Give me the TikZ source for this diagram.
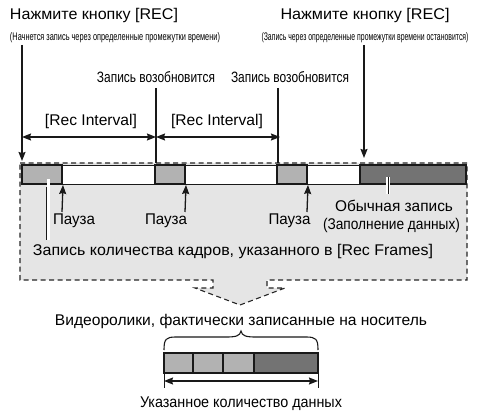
\documentclass[tikz,border=0pt]{standalone}
\usepackage{fontspec}
\usepackage{graphicx}
\setmainfont{Liberation Sans}
\usetikzlibrary{arrows.meta}
\newcommand{\condtext}[2]{\resizebox{#1}{\height}{#2}}
\begin{document}
\begin{tikzpicture}[x=1pt,y=-1pt,
  txt/.style={inner sep=0pt, anchor=base, font=\fontsize{15.5}{17}\selectfont},
  smalltxt/.style={inner sep=0pt, anchor=base, font=\fontsize{11}{12}\selectfont},
  ln/.style={line width=1.3pt, draw=black!90},
  arr/.style={ln, -{Stealth[length=9pt,width=7pt,inset=1pt]}},
  darr/.style={ln, {Stealth[length=9pt,width=7pt,inset=1pt]}-{Stealth[length=9pt,width=7pt,inset=1pt]}},
  lbox/.style={draw=black!90, line width=2pt, fill=black!30, inner sep=0pt},
  dbox/.style={draw=black!90, line width=2pt, fill=black!55, inner sep=0pt},
  halo/.style={draw=white, line width=3.5pt},
  thin/.style={draw=black!90, line width=0.8pt},
]
\useasboundingbox (0,0) rectangle (478,411);

% dashed region with arrow
\path[fill=black!10, draw=black!85, line width=1.1pt, dash pattern=on 5pt off 3.5pt]
  (20,163) -- (467,163) -- (467,280) -- (267,280) -- (267,288) -- (285,288)
  -- (240,305) -- (195,288) -- (213,288) -- (213,280) -- (20,280) -- cycle;

% timeline strip and boxes
\node[draw=black!90, line width=0.8pt, fill=white, minimum width=444pt, minimum height=19pt, inner sep=0pt] (strip) at (244,174.5) {};
\node[lbox, minimum width=40pt, minimum height=19pt] (p1) at (42,174.5) {};
\node[lbox, minimum width=30pt, minimum height=19pt] (p2) at (170,174.5) {};
\node[lbox, minimum width=30pt, minimum height=19pt] (p3) at (292,174.5) {};
\node[dbox, minimum width=106pt, minimum height=19pt] (nr) at (413,174.5) {};

% top labels
\node[txt] (rec1) at (94,20) {\condtext{168pt}{Нажмите кнопку [REC]}};
\node[smalltxt] (sub1) at (115,40.5) {\condtext{210pt}{(Начнется запись через определенные промежутки времени)}};
\node[txt] (rec2) at (365,20) {\condtext{169pt}{Нажмите кнопку [REC]}};
\node[smalltxt] (sub2) at (365,40.5) {\condtext{207pt}{(Запись через определенные промежутки времени остановится)}};

\coordinate (s1a) at (22,45);
\coordinate (s1b) at (22,161);
\coordinate (s2a) at (364,45);
\coordinate (s2b) at (364,158);
\draw[arr] (s1a) -- (s1b);
\draw[arr] (s2a) -- (s2b);

% resume labels and lines
\node[txt, font=\fontsize{15}{17}\selectfont] (res1) at (156,83) {\condtext{118pt}{Запись возобновится}};
\node[txt, font=\fontsize{15}{17}\selectfont] (res2) at (290,83) {\condtext{118pt}{Запись возобновится}};
\coordinate (v1a) at (156,88);
\coordinate (v1b) at (156,163);
\coordinate (v2a) at (278,88);
\coordinate (v2b) at (278,163);
\draw[ln] (v1a) -- (v1b);
\draw[ln] (v2a) -- (v2b);

% rec interval
\coordinate (r0) at (22,137);
\coordinate (r1) at (156,137);
\coordinate (r2) at (280,137);
\draw[darr] (r0) -- (r1);
\draw[darr] (r1) -- (r2);
\node[txt] (ri1) at (91,125.5) {\condtext{92pt}{[Rec Interval]}};
\node[txt] (ri2) at (217,125.5) {\condtext{92pt}{[Rec Interval]}};

% pause
\node[txt] (pa1) at (74,225) {\condtext{42pt}{Пауза}};
\node[txt] (pa2) at (166,225) {\condtext{42pt}{Пауза}};
\node[txt] (pa3) at (289.5,225) {\condtext{42pt}{Пауза}};
\coordinate (pa1s) at (62,212);
\coordinate (pa2s) at (185,212);
\coordinate (pa3s) at (307,212);
\draw[arr] (pa1s) -- (p1.south east);
\draw[arr] (pa2s) -- (p2.south east);
\draw[arr] (pa3s) -- (p3.south east);

% normal recording
\node[txt] (norm1) at (394,212) {\condtext{118pt}{Обычная запись}};
\node[txt] (norm2) at (391.5,229.5) {\condtext{137pt}{(Заполнение данных)}};
\coordinate (nra) at (388,177);
\coordinate (nrb) at (388,194);
\draw[halo] (nra) -- (nrb);
\draw[draw=black!90, line width=0.9pt] (nra) -- (nrb);

% frames
\node[txt] (frames) at (233,255) {\condtext{400pt}{Запись количества кадров, указанного в [Rec Frames]}};
\coordinate (fra) at (48,179);
\coordinate (frb) at (48,240);
\coordinate (frc) at (46.5,187);
\coordinate (frd) at (46.5,240);
\draw[draw=white, line width=3pt] (fra) -- (frb);
\draw[draw=black!90, line width=1.3pt] (frc) -- (frd);

% bottom
\node[txt] (media) at (241,325) {\condtext{372pt}{Видеоролики, фактически записанные на носитель}};
\draw[thin, line width=1.1pt] (164,350) .. controls (164,339) and (166,337) .. (176,337) -- (226,337)
  .. controls (236,337) and (240,336) .. (241,331) .. controls (242,336) and (246,337) .. (256,337)
  -- (306,337) .. controls (316,337) and (318,339) .. (318,350);
\node[lbox, minimum width=29pt, minimum height=20pt] (b1) at (178.5,363) {};
\node[lbox, minimum width=30pt, minimum height=20pt] (b2) at (208,363) {};
\node[lbox, minimum width=31pt, minimum height=20pt] (b3) at (238.5,363) {};
\node[dbox, minimum width=64pt, minimum height=20pt] (b4) at (286,363) {};
\coordinate (ta) at (164,373);
\coordinate (tb) at (164,388);
\coordinate (tc) at (318,373);
\coordinate (td) at (318,388);
\draw[thin] (ta) -- (tb);
\draw[thin] (tc) -- (td);
\coordinate (da) at (164,381);
\coordinate (db) at (318,381);
\draw[darr] (da) -- (db);
\node[txt] (amount) at (241,407) {\condtext{202pt}{Указанное количество данных}};
\end{tikzpicture}
\end{document}
